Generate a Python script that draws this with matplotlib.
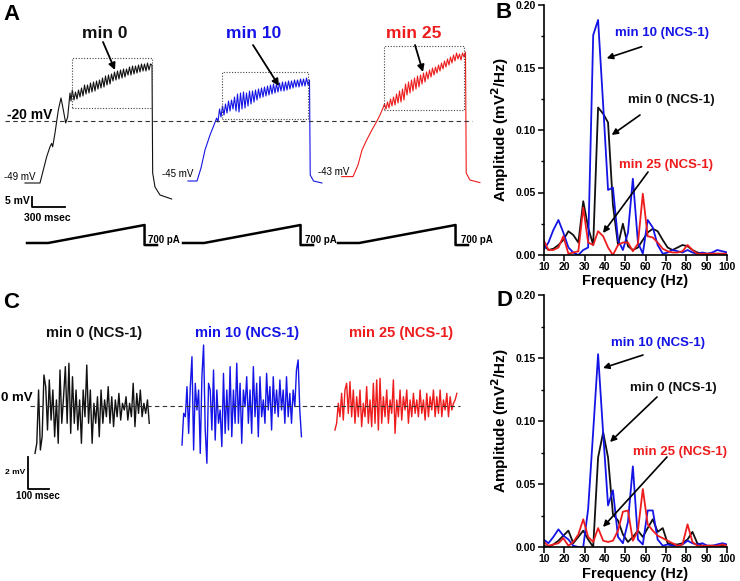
import numpy as np
import matplotlib
matplotlib.use('Agg')
import matplotlib.pyplot as plt

plt.rcParams['font.family'] = ['Liberation Sans', 'DejaVu Sans']
plt.rcParams['font.weight'] = 'bold'

# ---------------- DATA ----------------
# Panel A: membrane potential (mV) during ramp, three sweeps
A_LABELS = ['min 0', 'min 10', 'min 25']
A_REST_LABELS = ['-49 mV', '-45 mV', '-43 mV']
A_START = [225, 1692, 3075]          # ms, sweep start within the panel time axis
A_DT = 13.5                           # ms sampling of the oscillating plateau

A0_rise_t = [0, 135, 195, 225, 240, 249, 270, 300, 324, 345, 366, 384, 405, 414, 426, 441]
A0_rise_v = [-51, -51, -37.9, -32.9, -31.2, -32.9, -26, -14.5, -8.5, -14.5, -21, -18, -6, -10, -4.5, -9.5]
A0_plateau = [-5.5, -9, -4.5, -8, -3.5, -7.5, -2, -6.5, -2, -6, -1, -5.5, -0.5, -5, 0, -4,
              0.5, -3.5, 1.5, -3, 2.5, -2, 3, -1.5, 3.5, 0, 4.5, 0.5, 5, 1, 5.5, 1.5, 6, 2,
              6, 3, 7, 3, 7.5, 3.5, 7.5, 4, 8, 4.5, 8.5, 5, 8.5, 5, 9, 5.5, 8.5, 8]
A0_decay_t = [1149, 1170, 1215, 1320]
A0_decay_v = [-46, -53, -57, -59]

A1_rise_t = [0, 81, 117, 153, 198, 234, 258, 270]
A1_rise_v = [-50, -50, -43.5, -34.5, -27, -22, -18.5, -20.5]
A1_plateau = [-14, -18, -12.5, -17, -11.5, -16, -10, -15, -9.5, -14,
              -8, -15, -6.5, -15.5, -6, -14, -5.5, -13.5, -6, -12.5,
              -5, -11.5, -5, -10.5, -4.5, -9.5, -4, -8.5, -3.5, -8,
              -3, -7.5, -2.5, -7, -2, -6.5, -1.5, -6, -1.5, -5.5,
              -1, -5, -0.5, -5, -0.5, -4.5, 0, -4, 0, -3.5,
              0.5, -3, 0.5, -3, 1, -2.5, 1, -2.5, 1.5, -2, 0.5]
A1_decay_t = [1100, 1130, 1205]
A1_decay_v = [-47, -50, -51]

A2_rise_t = [0, 102, 147, 183, 225, 272, 315, 345, 372]
A2_rise_v = [-47.8, -47.8, -42, -34.5, -29.5, -24.5, -20.3, -17, -13.5]
A2_plateau = [-11.5, -14, -10.5, -13.5, -9, -12.5, -8, -12, -6.5, -11,
              -5, -10.5, -4, -9.5, -1.5, -7, -0.5, -6, 0.5, -5,
              1.5, -4, 2.5, -3, 3, -1.5, 4, -0.5, 4.5, 1,
              5.5, 2, 6.5, 3, 7, 4, 8, 5, 9, 6,
              10, 7, 11, 8, 12, 9, 13, 10, 14, 11,
              13.5, 10.5, 14, 12, 14.5]
A2_decay_t = [1121, 1154, 1244]
A2_decay_v = [-46, -49.5, -50.8]

# highlighted windows (ms within panel, mV)
A_BOX_T = [(645, 1365), (2001, 2775), (3456, 4176)]
A_BOX_V = [(-13.65, 11.35), (-19.15, 4.65), (-14.5, 17.5)]

# current ramp protocol (pA)
RAMP_START = [243, 1647, 3042]
RAMP_T = [0, 190, 1058, 1058, 1170]
RAMP_I = [0, 0, 700, -80, -80]

# Panel C: zoomed oscillations (mV), uniform sampling
C_LABELS = ['min 0 (NCS-1)', 'min 10 (NCS-1)', 'min 25 (NCS-1)']
C_START = [166.7, 866.7, 1595.0]
C_DT = [8.5, 7.9, 7.95]
C0 = [-2.96, -2.33, 1.00, -2.75, -1.92, 1.94, 1.21, -1.50, 1.63, -0.88, 1.00, -1.92, 0.38,
      -2.33, 2.25, -1.08, 0.58, 2.46, -1.08, 2.67, -1.71, 1.83, -1.08, 1.00, -1.50, 0.38,
      -2.33, 1.00, -0.67, 2.56, -1.08, 1.00, -2.33, 0.17, -1.08, 0.58, -1.92, 1.00, -1.08,
      0.38, -0.67, 1.21, -1.08, 0.58, -1.29, 0.38, -0.67, 0.79, -0.88, 0.17, -0.25, 0.58,
      -0.88, 0.17, -0.67, 1.42, -1.29, 0.79, -0.46, 1.00, -0.67, 0.17, -0.46, 0.38, -1.08]
C1 = [-2.44, -0.46, -0.67, 1.21, -1.71, 1.21, 3.08, -2.75, 1.42, -0.25, 1.00, -2.96, 1.83,
      3.81, -1.50, -3.58, 1.42, 1.00, -1.50, 2.25, -2.13, 1.00, -1.08, -0.25, -2.54, 2.04,
      -1.71, 1.00, -1.50, 2.46, -1.92, 1.00, -1.08, 2.67, -1.08, 1.42, -2.33, 1.00, -0.04,
      1.83, -1.08, 1.00, -1.71, 2.46, -0.67, 1.42, -1.92, 1.83, -0.67, 0.38, -1.08, 2.04,
      -0.25, 1.21, -1.50, 1.83, -0.46, 1.00, -0.67, 1.63, -0.25, 1.00, -1.08, 1.83, -0.67,
      0.79, -1.08, 1.00, -0.04, 2.25, 2.88, -0.25, -1.92]
C2 = [-1.50, -1.08, 0.17, -0.67, 0.79, -0.88, 1.00, 1.42, -0.46, 1.52, -0.67, 1.00, -1.08,
      0.58, -0.67, 1.00, -1.29, 0.17, -0.67, 1.21, -1.08, 0.38, -1.29, 1.42, -1.08, 1.63,
      -1.50, 1.73, -1.08, 0.58, -0.67, 1.00, -1.08, 0.38, -0.46, 1.63, -1.71, 0.38, -0.67,
      1.00, -0.88, 0.58, -0.25, 1.00, -1.08, 0.38, -0.67, 0.79, -0.46, 0.38, -0.67, 1.00,
      -0.46, 0.38, -0.88, 0.79, -0.67, 0.58, -0.25, 1.00, -0.67, 0.58, -0.46, 1.00, -0.67,
      0.38, -0.25, 0.79, -0.67, 0.58, -0.25, 0.17, 0.38, 0.79]

# Panels B and D: power spectra
FREQ = [9.77, 12.2, 14.6, 17.1, 19.5, 22.0, 24.4, 26.9, 29.3, 31.7, 34.2, 36.6, 39.1,
        41.5, 43.9, 46.4, 48.8, 51.3, 53.7, 56.2, 58.6, 61.0, 63.5, 65.9, 68.4, 70.8,
        73.2, 75.7, 78.1, 80.6, 83.0, 85.4, 87.9, 90.3, 92.8, 95.2, 97.7, 100.1]
B_MIN0 = [0.008, 0.004, 0.005, 0.008, 0.012, 0.019, 0.016, 0.010, 0.043, 0.022, 0.008, 0.118,
          0.113, 0.106, 0.040, 0.008, 0.025, 0.007, 0.004, 0.006, 0.012, 0.018, 0.021, 0.019,
          0.012, 0.006, 0.004, 0.006, 0.008, 0.007, 0.004, 0.002, 0.001, 0.001, 0.001, 0.001,
          0.001, 0.001]
B_MIN10 = [0.004, 0.010, 0.020, 0.028, 0.018, 0.006, 0.002, 0.000, 0.004, 0.006, 0.176, 0.188,
           0.120, 0.052, 0.054, 0.012, 0.004, 0.018, 0.061, 0.010, 0.001, 0.028, 0.022, 0.008,
           0.001, 0.002, 0.004, 0.003, 0.002, 0.004, 0.002, 0.001, 0.002, 0.001, 0.002, 0.004,
           0.003, 0.002]
B_MIN25 = [0.012, 0.004, 0.004, 0.006, 0.015, 0.001, 0.002, 0.003, 0.038, 0.010, 0.008, 0.019,
           0.015, 0.006, 0.000, 0.008, 0.010, 0.010, 0.003, 0.009, 0.049, 0.015, 0.014, 0.010,
           0.005, 0.003, 0.002, 0.002, 0.003, 0.008, 0.004, 0.001, 0.001, 0.001, 0.001, 0.001,
           0.001, 0.001]
D_MIN0 = [0.001, 0.000, 0.002, 0.005, 0.009, 0.013, 0.003, 0.008, 0.013, 0.006, 0.000, 0.071,
          0.091, 0.071, 0.026, 0.021, 0.010, 0.004, 0.008, 0.013, 0.008, 0.015, 0.022, 0.012,
          0.015, 0.003, 0.002, 0.002, 0.003, 0.006, 0.012, 0.003, 0.001, 0.001, 0.001, 0.001,
          0.001, 0.001]
D_MIN10 = [0.006, 0.003, 0.008, 0.014, 0.009, 0.006, 0.001, 0.000, 0.000, 0.030, 0.092, 0.153,
           0.090, 0.033, 0.045, 0.008, 0.003, 0.020, 0.064, 0.006, 0.002, 0.029, 0.029, 0.006,
           0.001, 0.002, 0.001, 0.001, 0.002, 0.005, 0.003, 0.002, 0.003, 0.001, 0.001, 0.002,
           0.003, 0.002]
D_MIN25 = [0.004, 0.001, 0.002, 0.003, 0.007, 0.001, 0.004, 0.010, 0.022, 0.008, 0.004, 0.015,
           0.005, 0.004, 0.005, 0.013, 0.028, 0.029, 0.005, 0.013, 0.046, 0.018, 0.013, 0.009,
           0.007, 0.005, 0.003, 0.001, 0.002, 0.018, 0.004, 0.001, 0.001, 0.001, 0.001, 0.001,
           0.002, 0.001]
SPEC_LABELS = ['min 0 (NCS-1)', 'min 10 (NCS-1)', 'min 25 (NCS-1)']
YTICKS = [0.00, 0.05, 0.10, 0.15, 0.20]
XTICKS = [10, 20, 30, 40, 50, 60, 70, 80, 90, 100]

# ---------------- STYLE / LAYOUT ----------------
BLACK, BLUE, RED = '#111111', '#1414e6', '#ee1c1c'
COLORS = [BLACK, BLUE, RED]
W, H = 740, 581
fig = plt.figure(figsize=(W / 100, H / 100), dpi=100)


def ax_px(x0, y0, x1, y1):
    return fig.add_axes([x0 / W, 1 - y1 / H, (x1 - x0) / W, (y1 - y0) / H])


def P(x, y):
    return (x / W, 1 - y / H)


def txt(x, y, s, **kw):
    kw.setdefault('ha', 'center')
    kw.setdefault('va', 'center')
    fig.text(x / W, 1 - y / H, s, **kw)


def arrow(x0, y0, x1, y1, lw=1.3, ms=10):
    fig.add_artist(matplotlib.patches.FancyArrowPatch(
        P(x0, y0), P(x1, y1), transform=fig.transFigure, arrowstyle='-|>',
        mutation_scale=ms, color='black', lw=lw, shrinkA=0, shrinkB=0))


# ---------------- PANEL A ----------------
axA = ax_px(0, 0, 540, 215)
axA.set_xlim(0, 4860)
axA.set_ylim(-67, 40.5)
axA.axis('off')
traces = [(A0_rise_t, A0_rise_v, A0_plateau, A0_decay_t, A0_decay_v),
          (A1_rise_t, A1_rise_v, A1_plateau, A1_decay_t, A1_decay_v),
          (A2_rise_t, A2_rise_v, A2_plateau, A2_decay_t, A2_decay_v)]
for i, (rt, rv, pv, dt_, dv) in enumerate(traces):
    pt = rt[-1] + A_DT * np.arange(1, len(pv) + 1)
    t = np.concatenate([rt, pt, dt_]) + A_START[i]
    v = np.concatenate([rv, pv, dv])
    axA.plot(t, v, color=COLORS[i], lw=0.8, clip_on=False)
    (t0, t1), (v0, v1) = A_BOX_T[i], A_BOX_V[i]
    axA.plot([t0, t1, t1, t0, t0], [v0, v0, v1, v1, v0], ls=(0, (1, 1.5)),
             color='#444444', lw=0.8)
axA.axhline(-20, xmin=5 / 540, xmax=472 / 540, color='#333333', lw=0.8,
            ls=(0, (4, 3)))
# scale bar 5 mV / 300 ms
axA.plot([288, 288, 585], [-58, -63, -63], color='black', lw=1.3, clip_on=False)

axR = ax_px(0, 215, 540, 255)
axR.set_xlim(0, 4860)
axR.set_ylim(-467, 1089)
axR.axis('off')
for s in RAMP_START:
    axR.plot(np.array(RAMP_T) + s, RAMP_I, color='black', lw=1.8)

txt(11, 14, 'A', fontsize=16)
for x, lab, c in zip([105, 254, 414], A_LABELS, COLORS):
    txt(x, 33, lab, fontsize=12.5, color=c)
arrow(103, 42, 115, 70)
arrow(253, 45, 279, 86)
arrow(415, 45, 423, 72)
txt(7, 115, '-20 mV', fontsize=10, ha='left')
for x, y, lab in zip([4, 162, 318], [177, 174, 172], A_REST_LABELS):
    txt(x, y, lab, fontsize=7, ha='left', fontweight='normal')
txt(30, 201, '5 mV', fontsize=7.5, ha='right')
txt(47, 218, '300 msec', fontsize=7.5)
for x in [148, 305, 461]:
    txt(x, 240, '700 pA', fontsize=7, ha='left')

# ---------------- PANEL C ----------------
axC = ax_px(0, 340, 540, 500)
axC.set_xlim(0, 540 / 0.21)
axC.set_ylim(-5.875, 4.125)
axC.axis('off')
for i, vals in enumerate([C0, C1, C2]):
    t = C_START[i] + C_DT[i] * np.arange(len(vals))
    axC.plot(t, vals, color=COLORS[i], lw=1.0)
axC.axhline(0, xmin=30 / 540, xmax=460 / 540, color='#333333', lw=0.8,
            ls=(0, (4, 3)))
axC.plot([133.3, 133.3, 233.3], [-3.19, -5.19, -5.19], color='black', lw=1.3,
         clip_on=False)
txt(11, 302, 'C', fontsize=16)
for x, lab, c in zip([94, 247, 401], C_LABELS, COLORS):
    txt(x, 333, lab, fontsize=10.5, color=c)
txt(1, 398, '0 mV', fontsize=9.5, ha='left')
txt(25, 473, '2 mV', fontsize=6, ha='right')
txt(38, 496, '100 msec', fontsize=7)


# ---------------- PANELS B, D ----------------
def spectrum(box, series, letter, ypos_letter, labels_pos, arrows, xl_off):
    ax = ax_px(*box)
    for vals, c in zip(series, COLORS):
        ax.plot(FREQ, vals, color=c, lw=1.3)
    ax.set_xlim(10, 100)
    ax.set_ylim(0, 0.20)
    ax.set_xticks(XTICKS)
    ax.set_yticks(YTICKS)
    ax.set_yticks(np.arange(0.025, 0.2, 0.05), minor=True)
    ax.set_yticklabels(['%.2f' % v for v in YTICKS])
    for sp in ['top', 'right']:
        ax.spines[sp].set_visible(False)
    for sp in ['left', 'bottom']:
        ax.spines[sp].set_linewidth(1.2)
    ax.tick_params(direction='out', length=4, width=1.1, labelsize=7.5, pad=2)
    ax.tick_params(axis='x', pad=1)
    ax.tick_params(which='minor', direction='out', length=2.5, width=1.0)
    ax.set_ylabel('Amplitude (mV$^\\mathbf{2}$/Hz)', fontsize=11, fontweight='bold')
    ax.yaxis.set_label_coords(-33 / 183, 0.5)
    ax.set_xlabel('Frequency (Hz)', fontsize=10.5, fontweight='bold')
    ax.xaxis.set_label_coords(0.5, xl_off)
    txt(504, ypos_letter, letter, fontsize=16)
    for (x, y), lab, c in zip(labels_pos, SPEC_LABELS, COLORS):
        txt(x, y, lab, fontsize=9.5, color=c)
    for a in arrows:
        arrow(*a, lw=1.2, ms=9)


spectrum((544, 5, 727, 255), [B_MIN0, B_MIN10, B_MIN25], 'B', 13,
         [(671, 100), (662, 33), (666, 165)],
         [(640, 115, 611.7, 135), (641.7, 46.7, 606.7, 58.3), (648, 172, 603, 233)],
         -19 / 250)
spectrum((544, 295, 727, 547), [D_MIN0, D_MIN10, D_MIN25], 'D', 300,
         [(673, 388), (658, 343), (680, 452)],
         [(657, 397, 610, 442), (643, 355, 603, 368), (667, 457, 603, 527)],
         -20 / 252)

fig.savefig('out.png', dpi=100)
